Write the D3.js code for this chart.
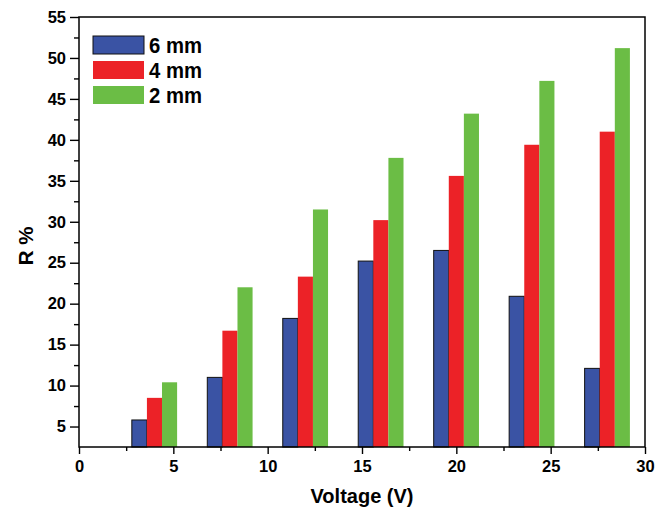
<!DOCTYPE html>
<html><head><meta charset="utf-8">
<script src="https://cdn.jsdelivr.net/npm/d3@7"></script>
<style>body{margin:0;background:#fff}svg{display:block}text{font-family:Arial,"Liberation Sans",sans-serif;font-weight:bold;fill:#000}</style>
</head><body>
<svg id="c" width="666" height="513"></svg>
<script>
const voltages = [4, 8, 12, 16, 20, 24, 28];
const seriesNames = ["6 mm", "4 mm", "2 mm"];
const seriesColors = ["#3A53A4", "#EC2227", "#6BBD45"];
const r6mm = [5.8, 11.0, 18.2, 25.2, 26.5, 20.9, 12.1];
const r4mm = [8.5, 16.7, 23.3, 30.2, 35.6, 39.4, 41.0];
const r2mm = [10.4, 22.0, 31.5, 37.8, 43.2, 47.2, 51.2];
const xTicks = [0, 5, 10, 15, 20, 25, 30];
const yTicks = [5, 10, 15, 20, 25, 30, 35, 40, 45, 50, 55];
const seriesValues = [r6mm, r4mm, r2mm];

const svg = d3.select("#c");
const L = 79, R = 645, T = 17, B = 447;
const x = d3.scaleLinear().domain([0, 30]).range([L, R]);
const y = d3.scaleLinear().domain([2.5, 55]).range([B, T]);
const barW = 0.8;

// bars
seriesValues.forEach((vals, si) => {
  svg.append("g").selectAll("rect").data(vals).join("rect")
    .attr("x", (d, i) => x(voltages[i] - 1.2 + si * barW))
    .attr("width", x(barW) - x(0))
    .attr("y", d => y(d))
    .attr("height", d => y(2.5) - y(d))
    .attr("fill", seriesColors[si])
    .attr("stroke", si === 0 ? "#111" : "none")
    .attr("stroke-width", 1);
});

// axes
const xAxis = d3.axisBottom(x).tickValues(xTicks).tickSize(7).tickPadding(6).tickFormat(d3.format("d"));
const xMinor = d3.axisBottom(x).tickValues(d3.range(2.5, 30, 5)).tickSize(4).tickFormat("");
const yAxis = d3.axisLeft(y).tickValues(yTicks).tickSize(9).tickPadding(4).tickFormat(d3.format("d"));
const yMinor = d3.axisLeft(y).tickValues(d3.range(7.5, 55, 5)).tickSize(5).tickFormat("");

function style(g){
  g.select(".domain").remove();
  g.selectAll("line").attr("stroke", "#000").attr("stroke-width", 1.4);
  g.selectAll("text").style("font-size", "16.5px").style("font-weight", "bold").attr("fill", "#000");
}
svg.append("g").attr("transform", `translate(0,${B})`).call(xAxis).call(style);
svg.append("g").attr("transform", `translate(0,${B})`).call(xMinor).call(style);
svg.append("g").attr("transform", `translate(${L},0)`).call(yAxis).call(style);
svg.append("g").attr("transform", `translate(${L},0)`).call(yMinor).call(style);

// frame
svg.append("rect").attr("x", L).attr("y", T).attr("width", R - L).attr("height", B - T)
  .attr("fill", "none").attr("stroke", "#000").attr("stroke-width", 1.5);

// axis titles
svg.append("text").attr("x", (L + R) / 2).attr("y", 503).attr("text-anchor", "middle")
  .style("font-size", "20px").text("Voltage (V)");
svg.append("text").attr("transform", "translate(33,246) rotate(-90)").attr("text-anchor", "middle")
  .style("font-size", "20.5px").text("R %");

// legend
const lg = svg.append("g");
seriesNames.forEach((n, i) => {
  lg.append("rect").attr("x", 93).attr("y", 36 + i * 25).attr("width", 51).attr("height", 18)
    .attr("fill", seriesColors[i]).attr("stroke", i === 0 ? "#111" : "none").attr("stroke-width", 1);
  lg.append("text").attr("x", 149).attr("y", 53 + i * 25).style("font-size", "21.5px")
    .attr("textLength", 53).attr("lengthAdjust", "spacingAndGlyphs").text(n);
});
</script>
</body></html>
